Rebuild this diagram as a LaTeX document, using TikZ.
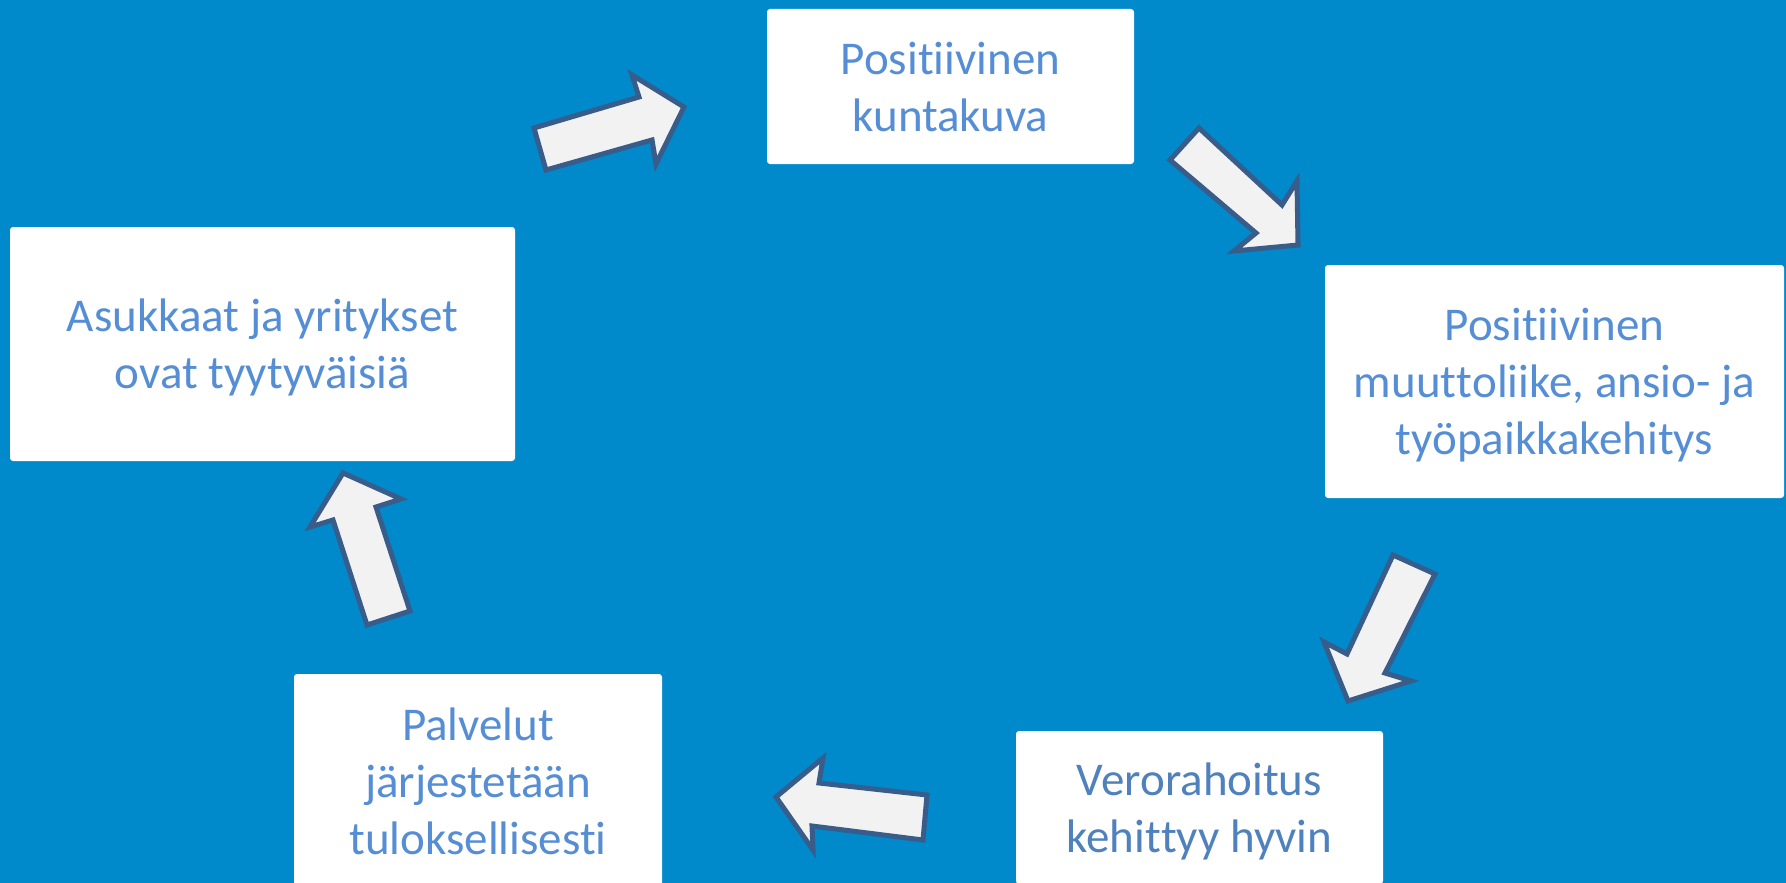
\documentclass[tikz,border=0pt]{standalone}
\usepackage{fontspec}
\setmainfont{Carlito}[Ligatures={NoCommon,NoContextual,NoRare}, Contextuals=NoAlternate]
\newcommand\zk{\kern0pt{}}
\definecolor{bgblue}{RGB}{0,137,203}
\definecolor{txtblue}{RGB}{85,142,213}
\definecolor{txtdark}{RGB}{79,129,189}
\definecolor{arrowfill}{RGB}{242,242,242}
\definecolor{arrowline}{RGB}{56,93,138}
\begin{document}
\begin{tikzpicture}[x=1pt,y=-1pt,
  box/.style={rectangle, fill=white, rounded corners=3pt, inner sep=0pt,
    align=center, text=txtblue, text depth=0pt,
    font=\fontsize{47}{57}\selectfont},
  blockarrow/.style={fill=arrowfill, draw=arrowline, line width=5pt, line join=miter}]
\useasboundingbox (0,0) rectangle (1786,883);
\fill[bgblue] (0,0) rectangle (1786,883);

\node[box, minimum width=367pt, minimum height=155pt] (b1) at (950.5,86.5)
  {Posit\zk iivinen\\kuntakuva};
\node[box, minimum width=459pt, minimum height=233pt] (b2) at (1554.5,381.5)
  {Posit\zk iivinen\\muut\zk t\zk oliike, ansio- ja\\työpaikkakehitys};
\node[box, minimum width=367pt, minimum height=153pt, text=txtdark] (b3) at (1199.5,807.5)
  {Verorahoit\zk us\\kehit\zk t\zk yy hyvin};
\node[box, minimum width=368pt, minimum height=215pt] (b4) at (478,781.5)
  {Palvelut\\järjestetään\\tuloksellisest\zk i};
\node[box, minimum width=505pt, minimum height=234pt] (b5) at (262.5,344)
  {Asukkaat ja yritykset\\ovat tyytyväisiä};

% block arrows
\draw[blockarrow] (534,128) -- (639,97) -- (632,75) -- (684,107) -- (656,164) -- (652,140) -- (546,170) -- cycle;
\draw[blockarrow] (1199,128) -- (1282,205) -- (1297,181) -- (1298,245) -- (1234,251) -- (1256,233) -- (1170,160) -- cycle;
\draw[blockarrow] (1393,555) -- (1435,574) -- (1385,673) -- (1411,681) -- (1348,701) -- (1324,642) -- (1347,654) -- cycle;
\draw[blockarrow] (927,795) -- (819,783) -- (823,758) -- (776,797) -- (813,850) -- (812,826) -- (923,840) -- cycle;
\draw[blockarrow] (343,473) -- (401,499) -- (376,507) -- (410,611) -- (367,625) -- (333,520) -- (310,527) -- cycle;
\end{tikzpicture}
\end{document}
